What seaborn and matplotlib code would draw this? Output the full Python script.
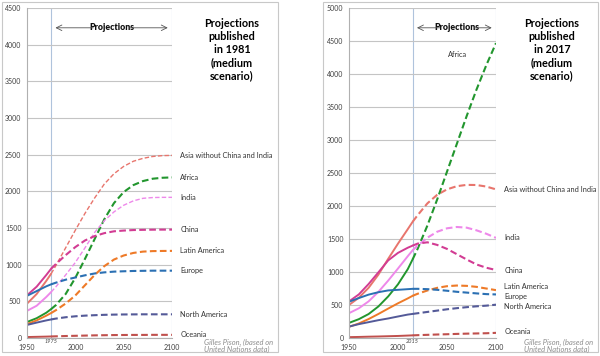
import pandas as pd
import seaborn as sns
import matplotlib.pyplot as plt
from matplotlib.patches import Rectangle

# ---- data (millions) ----
regions = ["Asia without China and India", "Africa", "India", "China",
           "Latin America", "Europe", "North America", "Oceania"]

years_1981 = [1950, 1960, 1970, 1975, 1980, 1990, 2000, 2010, 2020, 2030,
              2040, 2050, 2060, 2070, 2080, 2090, 2100]
asia_1981 = [468, 600, 780, 877, 990, 1230, 1470, 1700, 1910, 2100, 2240, 2340, 2410, 2450, 2475, 2487, 2490]
africa_1981 = [218, 270, 345, 395, 450, 600, 820, 1080, 1350, 1620, 1840, 1990, 2085, 2140, 2172, 2185, 2190]
india_1981 = [370, 440, 560, 627, 700, 860, 1030, 1230, 1440, 1600, 1720, 1810, 1870, 1905, 1915, 1918, 1918]
china_1981 = [582, 700, 860, 945, 1010, 1130, 1240, 1330, 1390, 1430, 1455, 1465, 1472, 1475, 1477, 1478, 1478]
latam_1981 = [190, 240, 305, 341, 380, 470, 580, 720, 860, 980, 1070, 1125, 1160, 1178, 1185, 1187, 1188]
europe_1981 = [575, 640, 705, 732, 755, 795, 825, 855, 880, 895, 905, 910, 914, 916, 918, 918, 918]
namerica_1981 = [178, 210, 240, 253, 265, 283, 296, 305, 311, 316, 319, 321, 322, 323, 323, 323, 323]
oceania_1981 = [13, 16, 19, 21, 23, 27, 30, 33, 36, 38, 40, 41, 42, 42, 43, 43, 43]

years_2017 = [1950, 1960, 1970, 1980, 1990, 2000, 2010, 2015, 2020, 2030,
              2040, 2050, 2060, 2070, 2080, 2090, 2100]
asia_2017 = [500, 610, 760, 960, 1200, 1430, 1650, 1762, 1860, 2040, 2170, 2252, 2300, 2320, 2318, 2295, 2252]
africa_2017 = [229, 285, 363, 478, 630, 814, 1044, 1194, 1350, 1704, 2100, 2520, 2940, 3360, 3760, 4130, 4468]
india_2017 = [376, 450, 555, 699, 870, 1053, 1240, 1330, 1400, 1520, 1610, 1662, 1682, 1672, 1632, 1580, 1517]
china_2017 = [554, 660, 818, 995, 1176, 1290, 1368, 1400, 1430, 1450, 1410, 1350, 1270, 1190, 1115, 1065, 1030]
latam_2017 = [169, 220, 287, 364, 446, 526, 600, 640, 670, 720, 760, 785, 795, 790, 775, 750, 725]
europe_2017 = [549, 605, 657, 694, 721, 730, 740, 745, 745, 740, 730, 716, 700, 688, 676, 665, 660]
namerica_2017 = [173, 210, 240, 270, 296, 326, 355, 365, 375, 395, 415, 435, 452, 467, 480, 490, 505]
oceania_2017 = [13, 16, 20, 23, 27, 31, 37, 40, 43, 48, 53, 57, 62, 66, 69, 72, 78]

series_1981 = [asia_1981, africa_1981, india_1981, china_1981,
               latam_1981, europe_1981, namerica_1981, oceania_1981]
series_2017 = [asia_2017, africa_2017, india_2017, china_2017,
               latam_2017, europe_2017, namerica_2017, oceania_2017]

colors = ["#E8756D", "#22962E", "#EE88EA", "#D23C93",
          "#EE7A28", "#2B70B3", "#545A98", "#C0504D"]


def long_df(years, series, cut):
    rows = []
    for reg, vals in zip(regions, series):
        for y, v in zip(years, vals):
            if y <= cut:
                rows.append((reg, "observed", y, v))
            if y >= cut:
                rows.append((reg, "projected", y, v))
    return pd.DataFrame(rows, columns=["region", "part", "year", "pop"])


df81 = long_df(years_1981, series_1981, 1975)
df17 = long_df(years_2017, series_2017, 2015)

sns.set_style("white")
plt.rcParams['font.family'] = ['Lato', 'DejaVu Sans']

fig = plt.figure(figsize=(6, 3.56), dpi=100)

W, H = 600, 356


def px_axes(x0, x1, y0, y1):
    return fig.add_axes([x0 / W, 1 - y1 / H, (x1 - x0) / W, (y1 - y0) / H])


# panel frames
for fx0, fx1 in [(1.5, 277.5), (323, 598)]:
    fig.add_artist(Rectangle((fx0 / W, 1 - 352 / H), (fx1 - fx0) / W, 350.5 / H,
                             transform=fig.transFigure, fill=False,
                             ec="#C8C8C8", lw=0.8))

ax1 = px_axes(27, 172, 8, 338)
ax2 = px_axes(349, 496, 8, 338)

thin_1981 = ["Asia without China and India", "India"]

panels = [
    (ax1, df81, 1975, 4500, "1981", 232, {}, thin_1981),
    (ax2, df17, 2015, 5000, "2017", 552,
     {"Latin America": 50, "Europe": -35, "North America": -35, "Oceania": 15}, []),
]

for ax, df, cut, ymax, pub, tx, nudges, thin in panels:
    for reg, col in zip(regions, colors):
        sub = df[df.region == reg]
        obs = sub[sub.part == "observed"]
        proj = sub[sub.part == "projected"]
        sns.lineplot(data=obs, x="year", y="pop", ax=ax, color=col, lw=1.4)
        lw = 1.0 if reg in thin else 1.5
        sns.lineplot(data=proj, x="year", y="pop", ax=ax, color=col, lw=lw,
                     linestyle=(0, (3.2, 1.6)))
        if reg == "Africa" and pub == "2017":
            ax.text(2061, 4290, reg, fontsize=5.3, ha="center", va="center",
                    color="#333333")
            continue
        yend = proj["pop"].iloc[-1] + nudges.get(reg, 0)
        ax.annotate(reg, xy=(2100, yend), xytext=(6, 0), textcoords="offset points",
                    fontsize=5.3, va="center", ha="left", color="#333333",
                    annotation_clip=False)

    ax.set_xlim(1950, 2100)
    ax.set_ylim(0, ymax)
    ax.set_xticks([1950, 2000, 2050, 2100])
    ax.set_yticks(range(0, ymax + 1, 500))
    ax.yaxis.grid(True, color="#C4C4C4", lw=0.8)
    ax.xaxis.grid(False)
    ax.set_xlabel("")
    ax.set_ylabel("")
    ax.tick_params(axis="y", length=3, width=0.8, color="#BFBFBF", pad=1,
                   labelsize=5, labelcolor="#404040")
    ax.tick_params(axis="x", length=0, pad=4, labelsize=5, labelcolor="#404040")
    for s in ["top", "right"]:
        ax.spines[s].set_visible(False)
    ax.spines["left"].set_color("#B0B0B0")
    ax.spines["bottom"].set_color("#B0B0B0")
    ax.spines["left"].set_linewidth(0.8)
    ax.spines["bottom"].set_linewidth(0.8)
    ax.axvline(cut, color="#AFC3DC", lw=0.8, zorder=0)
    ax.axvline(2100, color="#AFC3DC", lw=0.8, zorder=0)

    # projections header with arrows
    yh = ymax * 0.94
    mid = (cut + 2100) / 2 + (0 if pub == "1981" else 3)
    ax.text(mid, yh, "Projections", fontsize=6.2, fontweight="heavy",
            ha="center", va="center", color="#111111")
    half = 16 if pub == "1981" else 15
    ax.annotate("", xy=(cut + 1.5, yh), xytext=(mid - half, yh),
                arrowprops=dict(arrowstyle="->", lw=0.6, color="#555555"))
    ax.annotate("", xy=(2098.5, yh), xytext=(mid + half, yh),
                arrowprops=dict(arrowstyle="->", lw=0.6, color="#555555"))

    ax.annotate(str(cut), xy=(cut, 0), xytext=(0, -1), textcoords="offset points",
                fontsize=4, style="italic", ha="center", va="top", color="#404040",
                annotation_clip=False)

    fig.text(tx / W, 1 - 49.5 / H,
             "Projections\npublished\nin " + pub + "\n(medium\nscenario)",
             fontsize=7.8, fontweight="bold", ha="center", va="center",
             linespacing=1.22, color="#000000")

    fig.text((tx - 28) / W, 1 - 346 / H,
             "Gilles Pison, (based on\nUnited Nations data)",
             fontsize=5.4, style="italic", ha="left", va="center",
             color="#8C8C8C", linespacing=1.05)

for ax in (ax1, ax2):
    leg = ax.get_legend()
    if leg:
        leg.remove()

fig.savefig("out.png", dpi=100)
